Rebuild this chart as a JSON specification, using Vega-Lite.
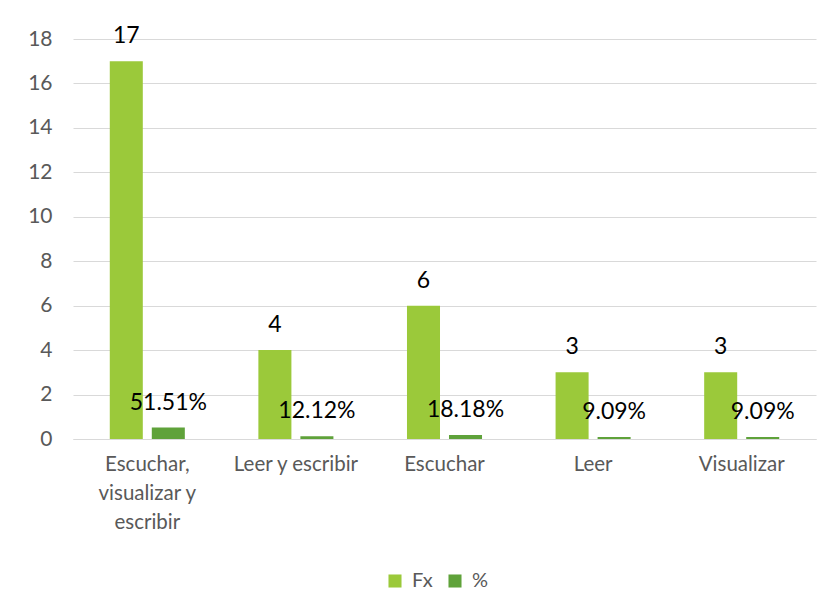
{
  "$schema": "https://vega.github.io/schema/vega-lite/v6.json",
  "autosize": {"type": "none"},
  "padding": {"left": 73, "top": 39, "right": 15, "bottom": 177},
  "width": 743,
  "height": 400,
  "background": "white",
  "data": {
    "values": [
      {"cat": "Escuchar, visualizar y escribir", "serie": "Fx", "valor": 17, "label": "17"},
      {"cat": "Escuchar, visualizar y escribir", "serie": "%", "valor": 0.5151, "label": "51.51%"},
      {"cat": "Leer y escribir", "serie": "Fx", "valor": 4, "label": "4"},
      {"cat": "Leer y escribir", "serie": "%", "valor": 0.1212, "label": "12.12%"},
      {"cat": "Escuchar", "serie": "Fx", "valor": 6, "label": "6"},
      {"cat": "Escuchar", "serie": "%", "valor": 0.1818, "label": "18.18%"},
      {"cat": "Leer", "serie": "Fx", "valor": 3, "label": "3"},
      {"cat": "Leer", "serie": "%", "valor": 0.0909, "label": "9.09%"},
      {"cat": "Visualizar", "serie": "Fx", "valor": 3, "label": "3"},
      {"cat": "Visualizar", "serie": "%", "valor": 0.0909, "label": "9.09%"}
    ]
  },
  "encoding": {
    "x": {
      "field": "cat", "type": "nominal", "sort": null,
      "scale": {"paddingInner": 0.495, "paddingOuter": 0.2475},
      "axis": {
        "title": null, "labelAngle": 0, "labelFontSize": 20.5, "labelColor": "#595959",
        "labelFont": "Lato", "labelPadding": 15, "labelLineHeight": 29,
        "domainColor": "#d9d9d9", "domainWidth": 1, "ticks": false,
        "labelExpr": "datum.value == 'Escuchar, visualizar y escribir' ? ['Escuchar,', 'visualizar y', 'escribir'] : datum.value"
      }
    },
    "xOffset": {
      "field": "serie", "type": "nominal", "sort": ["Fx", "%"],
      "scale": {"paddingInner": 0.214, "paddingOuter": 0}
    },
    "y": {
      "field": "valor", "type": "quantitative",
      "scale": {"domain": [0, 18], "nice": false},
      "axis": {
        "title": null, "values": [0, 2, 4, 6, 8, 10, 12, 14, 16, 18],
        "labelFontSize": 21, "labelColor": "#595959", "labelFont": "Lato",
        "labelPadding": 21, "domain": false, "ticks": false,
        "gridColor": "#d9d9d9", "gridWidth": 1
      }
    }
  },
  "layer": [
    {
      "mark": {"type": "bar"},
      "encoding": {
        "color": {
          "field": "serie", "type": "nominal", "sort": ["Fx", "%"],
          "scale": {"domain": ["Fx", "%"], "range": ["#9bc93a", "#5fa23a"]},
          "legend": {
            "title": null, "orient": "none", "direction": "horizontal",
            "legendX": 312, "legendY": 532, "symbolType": "square",
            "symbolSize": 170, "symbolStrokeWidth": 0, "labelFontSize": 20,
            "labelColor": "#595959", "labelFont": "Lato", "labelOffset": 7,
            "columnPadding": 12, "padding": 0
          }
        }
      }
    },
    {
      "mark": {"type": "text", "dy": -25, "fontSize": 23, "font": "Lato", "color": "black", "baseline": "middle"},
      "encoding": {"text": {"field": "label"}}
    }
  ],
  "config": {"view": {"stroke": null}}
}
